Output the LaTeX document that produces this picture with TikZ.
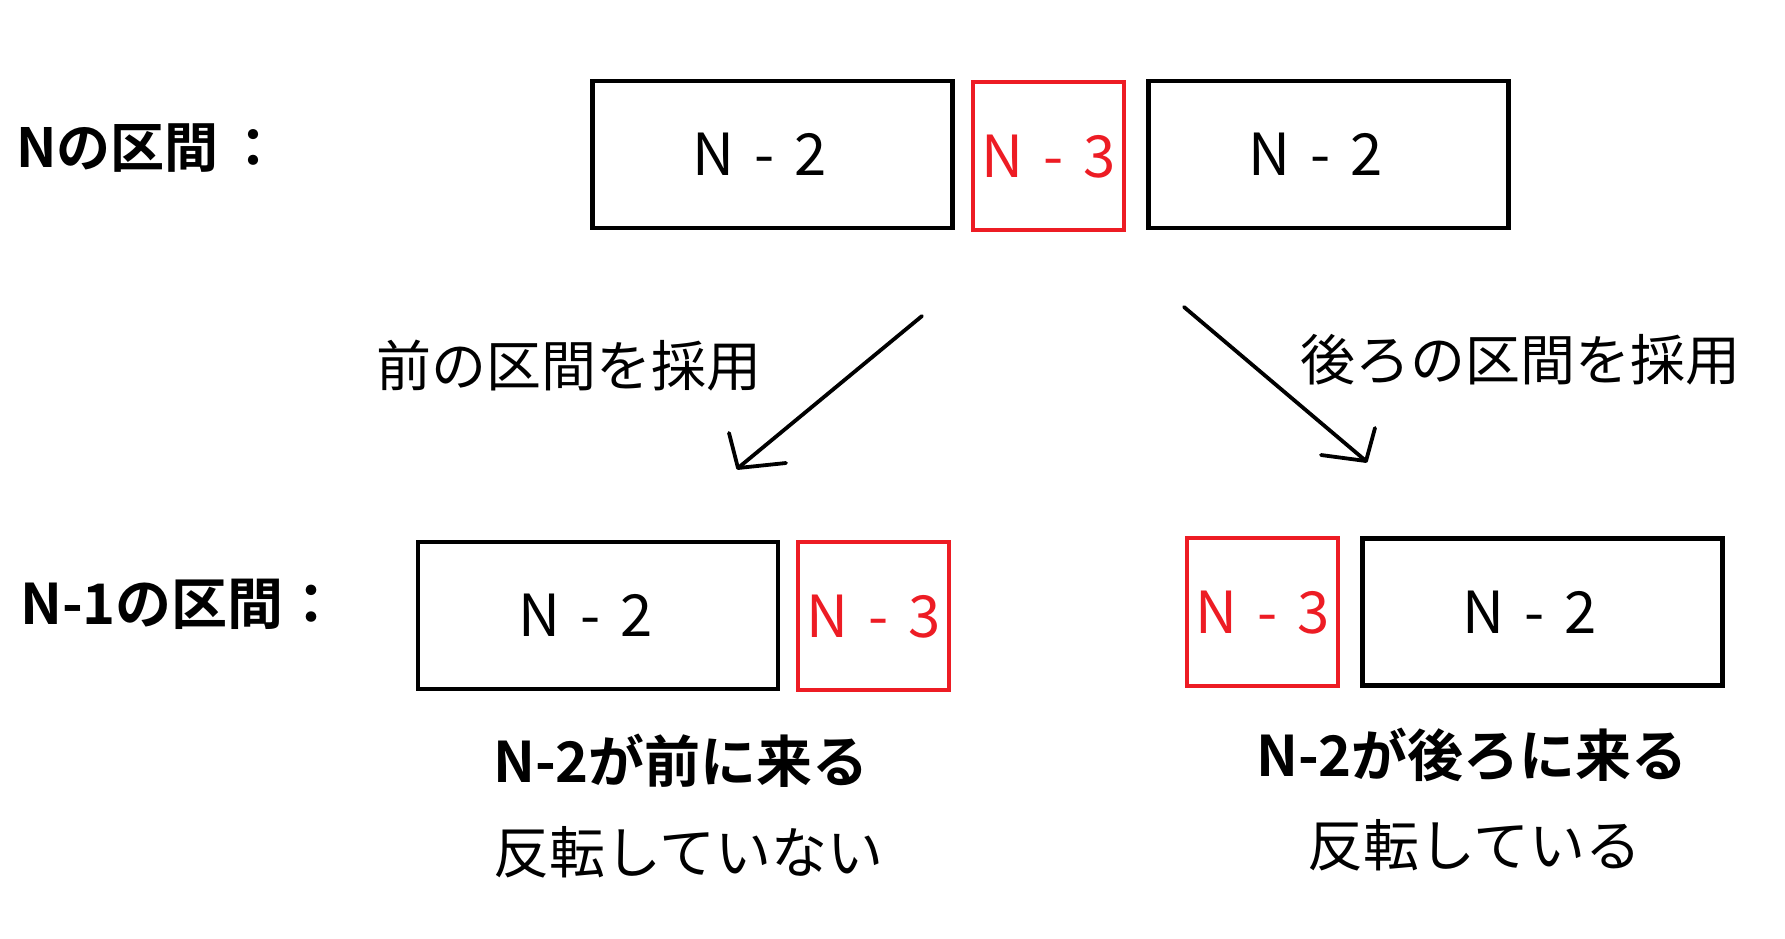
\documentclass[tikz,border=0pt]{standalone}
\usepackage{fontspec}
\setmainfont{Noto Sans CJK JP}
\newfontfamily\jpbold{Noto Sans CJK JP Bold}
\definecolor{pred}{RGB}{237,28,36}
\newcommand{\gapdash}[2]{#1\hspace{7pt} - \hspace{7pt}#2}
\newcommand{\lefttxt}[1]{\hbox{#1\kern25pt}}
\begin{document}
\begin{tikzpicture}[x=1pt,y=-1pt,
  blk/.style={draw=black,line width=4.5pt,minimum width=360pt,minimum height=147pt,inner sep=0pt,
    font=\fontsize{58}{58}\selectfont,text height=42pt,text depth=0pt},
  redblk/.style={draw=pred,text=pred,line width=4pt,minimum width=151pt,minimum height=148pt,inner sep=0pt,
    font=\fontsize{58}{58}\selectfont,text height=42pt,text depth=0pt},
  lbl/.style={anchor=west,inner sep=0pt,font=\fontsize{56}{56}\selectfont},
  blbl/.style={anchor=west,inner sep=0pt,font=\jpbold\fontsize{56}{56}\selectfont},
  arr/.style={line width=3.8pt,line cap=round,line join=round}]
\useasboundingbox[fill=white] (0,0) rectangle (1785,938);
% top row
\node[blk] (t1) at (772.5,154.5) {\lefttxt{\gapdash{N}{2}}};
\node[redblk] (t2) at (1048.5,156) {\gapdash{N}{3}};
\node[blk] (t3) at (1328.5,154.5) {\lefttxt{\gapdash{N}{2}}};
% bottom row
\node[blk] (b1) at (598,615.5) {\lefttxt{\gapdash{N}{2}}};
\node[redblk] (b2) at (873.5,616) {\gapdash{N}{3}};
\node[redblk] (b3) at (1262.5,612) {\gapdash{N}{3}};
\node[blk] (b4) at (1542.5,612) {\lefttxt{\gapdash{N}{2}}};
% labels
\node[blbl,font=\jpbold\fontsize{54}{54}\selectfont] (ln) at (16,148) {Nの区間\kern8pt：};
\node[blbl] (ln1) at (20,604) {N-1の区間：};
\node[lbl,font=\fontsize{55}{55}\selectfont] (lf) at (376,366) {前の区間を採用};
\node[lbl,font=\fontsize{55}{55}\selectfont] (lb) at (1300,360) {後ろの区間を採用};
\node[blbl] (c1) at (493,761) {N-2が前に来る};
\node[lbl] (c2) at (493,852) {反転していない};
\node[blbl] (c3) at (1256,755) {N-2が後ろに来る};
\node[lbl] (c4) at (1307,845) {反転している};
% arrows
\coordinate (a1s) at (922,316);
\coordinate (a1t) at (738,468);
\coordinate (a1p) at (729,433);
\coordinate (a1q) at (786,463);
\coordinate (a2s) at (1184,307);
\coordinate (a2t) at (1366,461);
\coordinate (a2p) at (1375,428);
\coordinate (a2q) at (1321,455);
\draw[arr] (a1s) -- (a1t);
\draw[arr] (a1p) -- (a1t) -- (a1q);
\draw[arr] (a2s) -- (a2t);
\draw[arr] (a2p) -- (a2t) -- (a2q);
\end{tikzpicture}
\end{document}
